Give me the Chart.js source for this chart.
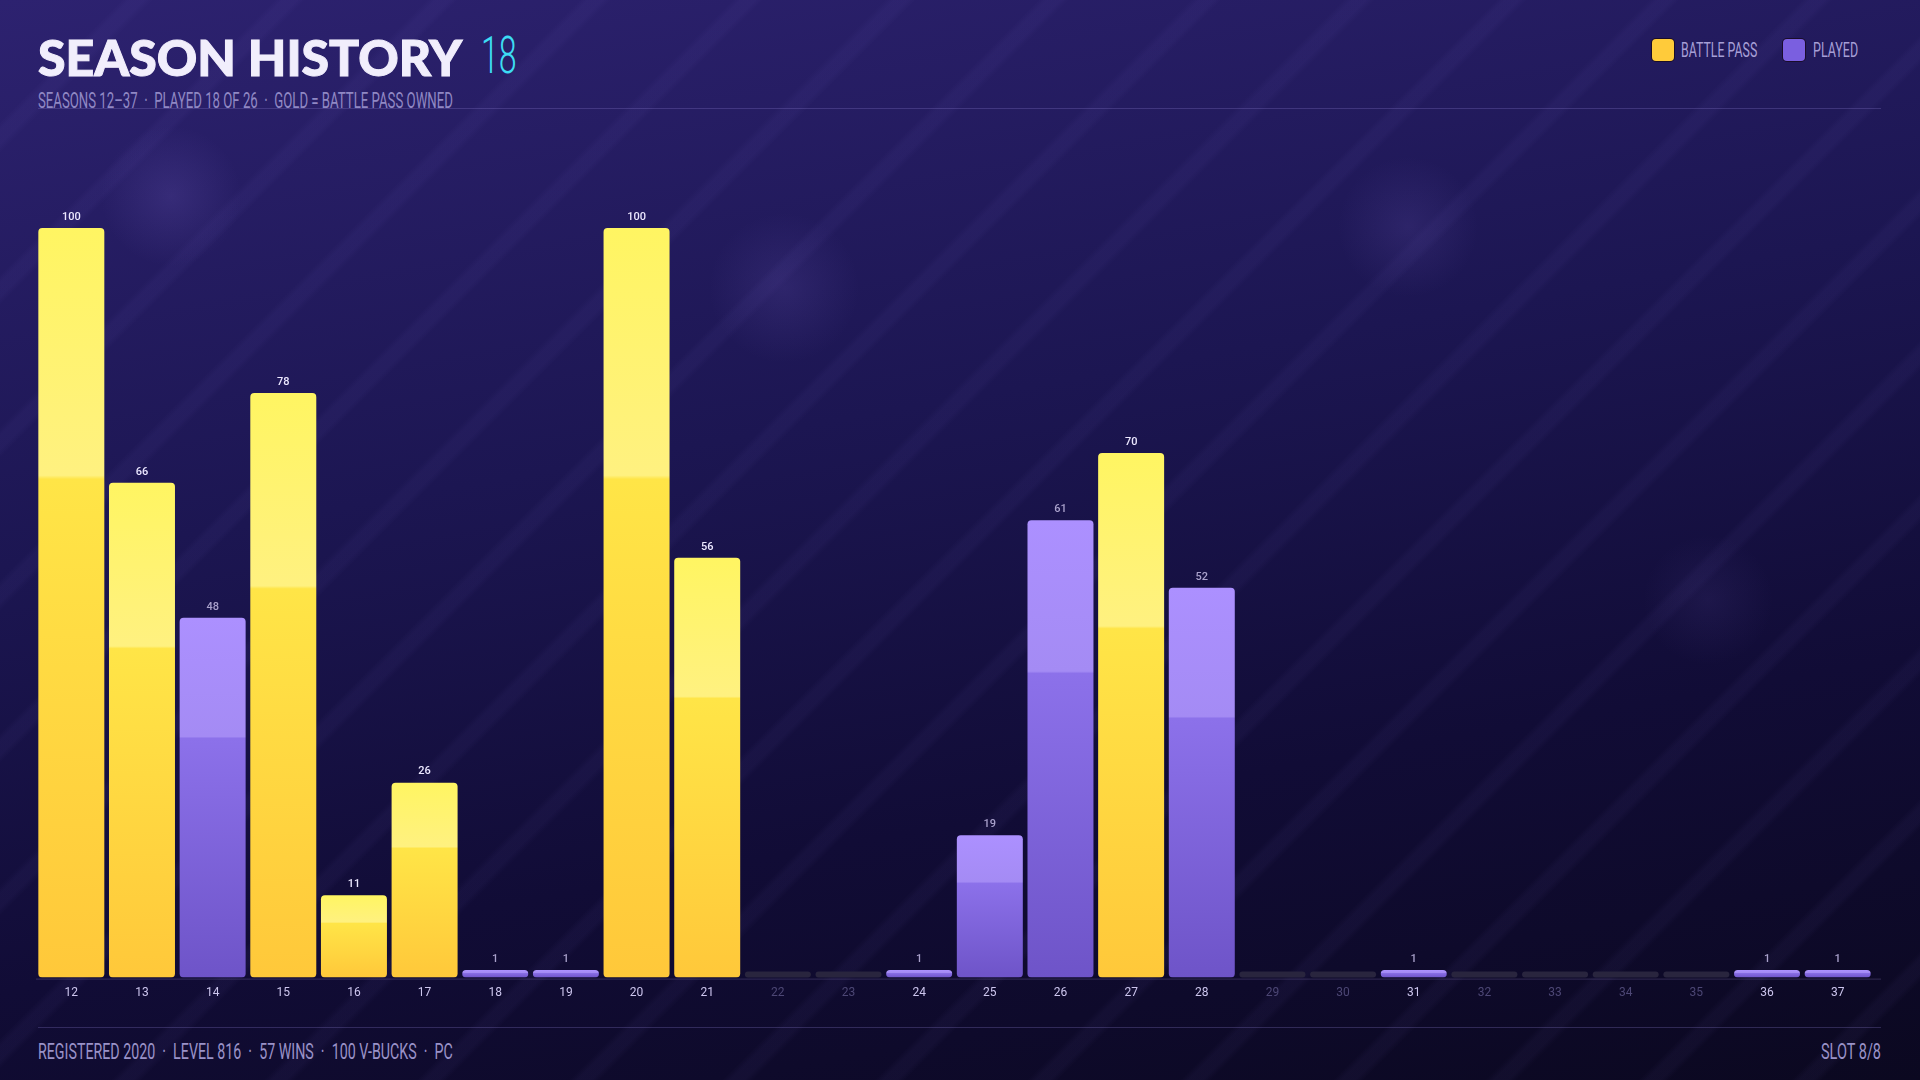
<!DOCTYPE html>
<html>
<head>
<meta charset="utf-8">
<script src="https://cdn.jsdelivr.net/npm/chart.js@4.4.1/dist/chart.umd.min.js"></script>
<style>
    html, body { margin: 0; padding: 0; }
    body {
        width: 1920px; height: 1080px; overflow: hidden; position: relative;
        background: linear-gradient(170deg, #2d2270 0%, #1c1652 40%, #110c36 70%, #0b0820 100%);
        font-family: 'Roboto', sans-serif;
    }
    .stripes {
        position: absolute; inset: 0;
        background: repeating-linear-gradient(135deg, rgba(160,140,255,0) 0px, rgba(160,140,255,0) 86px, rgba(160,140,255,0.045) 92px, rgba(160,140,255,0.045) 102px, rgba(160,140,255,0) 108px);
    }
    .glow {
        position: absolute; inset: 0;
        background:
            radial-gradient(circle at 171px 196px, rgba(120,100,200,0.2), rgba(0,0,0,0) 70px),
            radial-gradient(circle at 784px 288px, rgba(120,100,200,0.16), rgba(0,0,0,0) 75px),
            radial-gradient(circle at 1408px 227px, rgba(120,100,200,0.16), rgba(0,0,0,0) 70px),
            radial-gradient(circle at 1708px 600px, rgba(120,100,200,0.1), rgba(0,0,0,0) 65px);
    }
    #wrap { position: absolute; left: 0; top: 0; width: 1920px; height: 1080px; }
    .fit { position: absolute; white-space: nowrap; transform-origin: left center; }
    .fit.r { transform-origin: right center; }
    .title { left: 38px; top: 28px; font-family: 'Lato', sans-serif; font-weight: 900; font-size: 49px; color: #f1eefc; -webkit-text-stroke: 1px #f1eefc; }
    .num { left: 481px; top: 26px; font-weight: 300; font-size: 51px; color: #3ddcf3; }
    .sub { left: 38px; top: 88px; font-size: 22px; color: #9088c4; }
    .hline { position: absolute; left: 38px; width: 1843px; height: 1px; background: rgba(140,125,210,0.28); }
    .lg { top: 38px; font-size: 20px; color: #a69fd6; line-height: 24px; }
    .sw { position: absolute; top: 39px; width: 22px; height: 22px; border-radius: 4px; box-shadow: 0 0 0 1px #1a0d2a; }
    .foot { top: 1039px; font-size: 22px; color: #9a92c8; }
</style>
</head>
<body>
<div class="stripes"></div>
<div class="glow"></div>
<div class="fit title" data-w="424">SEASON HISTORY</div>
<div class="fit num" data-w="36">18</div>
<div class="fit sub" data-w="415">SEASONS 12–37 &nbsp;·&nbsp; PLAYED 18 OF 26 &nbsp;·&nbsp; GOLD = BATTLE PASS OWNED</div>
<div class="hline" style="top:108px"></div>
<div class="sw" style="left:1652px;background:#ffcb3a"></div>
<div class="fit lg" style="left:1681px" data-w="76">BATTLE PASS</div>
<div class="sw" style="left:1783px;background:#7a5fe0"></div>
<div class="fit lg" style="left:1813px" data-w="45">PLAYED</div>
<div class="hline" style="top:1027px"></div>
<div class="fit foot" style="left:38px" data-w="415">REGISTERED 2020 &nbsp;·&nbsp; LEVEL 816 &nbsp;·&nbsp; 57 WINS &nbsp;·&nbsp; 100 V-BUCKS &nbsp;·&nbsp; PC</div>
<div class="fit foot r" style="right:39px" data-w="60">SLOT 8/8</div>
<div id="wrap"><canvas id="chart"></canvas></div>

<script>
const seasons = ['12','13','14','15','16','17','18','19','20','21','22','23','24','25','26','27','28','29','30','31','32','33','34','35','36','37'];
const levels = [100, 66, 48, 78, 11, 26, 1, 1, 100, 56, 0, 0, 1, 19, 61, 70, 52, 0, 0, 1, 0, 0, 0, 0, 1, 1];
const battlePass = [1, 1, 0, 1, 1, 1, 0, 0, 1, 1, 0, 0, 0, 0, 0, 1, 0, 0, 0, 0, 0, 0, 0, 0, 0, 0];

// squeeze header/footer text to the widths seen in the picture
document.querySelectorAll('.fit').forEach(el => {
    const w = +el.dataset.w;
    el.style.transform = 'scaleX(' + (w / el.offsetWidth) + ')';
});

const labelFont = "'Roboto', sans-serif";

function barFill(ctx) {
    const chart = ctx.chart;
    const i = ctx.dataIndex;
    const gold = battlePass[i] === 1;
    if (!chart.chartArea || ctx.type !== 'data') return gold ? '#ffcf3d' : '#7a5fe0';
    const y = chart.scales.y;
    const top = y.getPixelForValue(levels[i]);
    const bottom = y.getPixelForValue(0);
    if (bottom - top < 1) return gold ? '#ffcf3d' : '#7a5fe0';
    const g = chart.ctx.createLinearGradient(0, top, 0, bottom);
    if (gold) {
        g.addColorStop(0, '#fff562');
        g.addColorStop(0.33, '#fff180');
        g.addColorStop(0.335, '#ffe547');
        g.addColorStop(1, '#ffc83a');
    } else {
        g.addColorStop(0, '#ac90ff');
        g.addColorStop(0.33, '#a48bf4');
        g.addColorStop(0.335, '#8c71ea');
        g.addColorStop(1, '#6e54c8');
    }
    return g;
}

const emptyTracks = {
    id: 'emptyTracks',
    beforeDatasetsDraw(chart) {
        const c = chart.ctx;
        const base = chart.scales.y.getPixelForValue(0);
        chart.getDatasetMeta(0).data.forEach((bar, i) => {
            if (levels[i] !== 0) return;
            c.save();
            c.fillStyle = '#29253e';
            c.beginPath();
            c.roundRect(bar.x - bar.width / 2, base - 6, bar.width, 6, 3);
            c.fill();
            c.restore();
        });
        // axis line
        c.save();
        c.strokeStyle = 'rgba(120,110,170,0.35)';
        c.lineWidth = 1;
        c.beginPath();
        c.moveTo(36, base + 1.5);
        c.lineTo(1881, base + 1.5);
        c.stroke();
        c.restore();
    }
};

const valueLabels = {
    id: 'valueLabels',
    afterDatasetsDraw(chart) {
        const c = chart.ctx;
        c.save();
        c.font = '500 11px ' + labelFont;
        c.textAlign = 'center';
        c.textBaseline = 'middle';
        chart.getDatasetMeta(0).data.forEach((bar, i) => {
            if (levels[i] === 0) return;
            c.fillStyle = battlePass[i] ? '#ece8ff' : '#aaa2cc';
            c.fillText(levels[i], bar.x, bar.y - 11);
        });
        c.restore();
    }
};

new Chart(document.getElementById('chart'), {
    type: 'bar',
    data: {
        labels: seasons,
        datasets: [{
            label: 'Level',
            data: levels,
            backgroundColor: barFill,
            borderRadius: 4,
            borderSkipped: false,
            barPercentage: 0.934,
            categoryPercentage: 1
        }]
    },
    options: {
        responsive: true,
        maintainAspectRatio: false,
        animation: false,
        layout: { padding: { left: 36, right: 47, top: 228, bottom: 72 } },
        plugins: { legend: { display: false }, tooltip: { enabled: false } },
        scales: {
            x: {
                grid: { display: false, drawTicks: false },
                border: { display: false },
                ticks: {
                    padding: 8,
                    font: { family: labelFont, size: 12 },
                    color: (ctx) => levels[ctx.index] > 0 ? '#cdc6ee' : '#4d4775',
                    maxRotation: 0,
                    autoSkip: false
                }
            },
            y: { display: false, min: 0, max: 100 }
        }
    },
    plugins: [emptyTracks, valueLabels]
});
</script>
</body>
</html>
